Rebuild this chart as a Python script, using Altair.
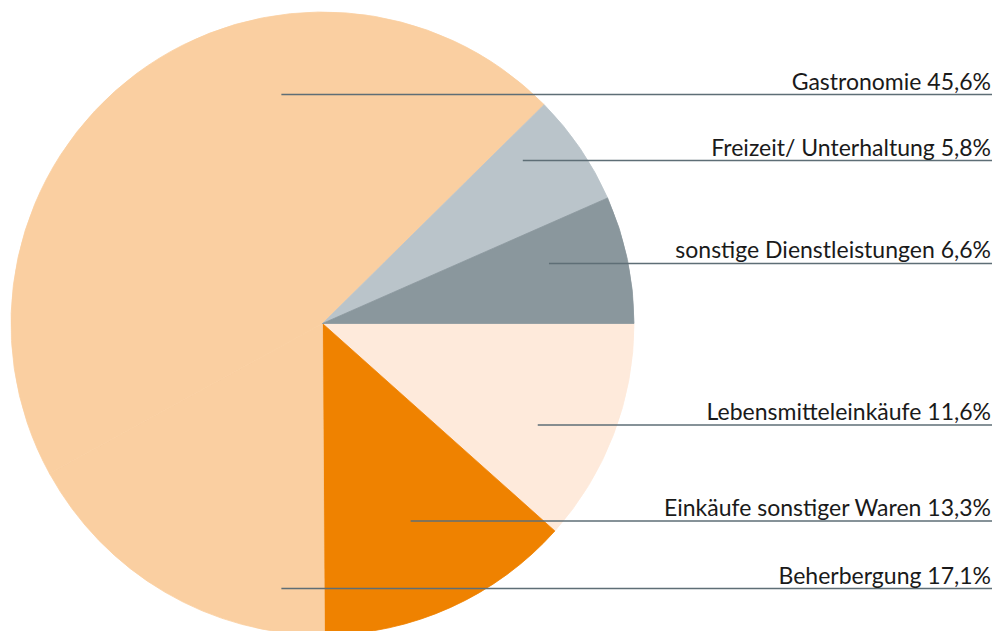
import math
import altair as alt
import pandas as pd

# data
categories = ["Lebensmitteleinkäufe", "Einkäufe sonstiger Waren", "Beherbergung",
              "Gastronomie", "Freizeit/ Unterhaltung", "sonstige Dienstleistungen"]
values = [11.6, 13.3, 17.1, 45.6, 5.8, 6.6]
labels = ["Lebensmitteleinkäufe 11,6%", "Einkäufe sonstiger Waren 13,3%", "Beherbergung 17,1%",
          "Gastronomie 45,6%\u00a0", "Freizeit/ Unterhaltung 5,8%", "sonstige Dienstleistungen 6,6%"]
colors = ["#FEEADB", "#EF8200", "#FACFA1", "#FACFA1", "#BAC4CA", "#8A979D"]

# layout (leader anchor points, in units of the pie radius relative to its centre)
W, H = 998, 631
CX, CY, R = 322.5, 323.5, 311.5
anchor_fx = [0.691, 0.283, -0.132, -0.132, 0.643, 0.727]
anchor_fy = [0.326, 0.634, 0.851, -0.735, -0.523, -0.193]
LINE_END = 992
TEXT_RIGHT = 991

df = pd.DataFrame({"cat": categories, "value": values, "label": labels,
                   "idx": list(range(len(categories)))})
lines = pd.DataFrame({
    "cat": categories,
    "label": labels,
    "x": [CX + R * f for f in anchor_fx],
    "y": [CY + R * f for f in anchor_fy],
})
lines["x2"] = LINE_END
lines["tx"] = TEXT_RIGHT
lines["ty"] = lines["y"] - 5

cscale = alt.Scale(domain=categories, range=colors)
pie = alt.Chart(df).mark_arc(strokeWidth=0.8).encode(
    theta=alt.Theta("value:Q", stack=True,
                    scale=alt.Scale(range=[math.pi / 2, math.pi / 2 + 2 * math.pi])),
    order=alt.Order("idx:Q"),
    color=alt.Color("cat:N", scale=cscale, legend=None),
    stroke=alt.Stroke("cat:N", scale=cscale, legend=None),
    x=alt.value(CX), y=alt.value(CY), radius=alt.value(R),
)

xs = alt.Scale(domain=[0, W], range=[0, W])
ys = alt.Scale(domain=[0, H], range=[0, H])

rules = alt.Chart(lines).mark_rule(color="#5E6E76", strokeWidth=1.5).encode(
    x=alt.X("x:Q", scale=xs, axis=None),
    x2="x2:Q",
    y=alt.Y("y:Q", scale=ys, axis=None),
)

texts = alt.Chart(lines).mark_text(align="right", baseline="alphabetic", font="Lato",
                                   fontSize=23, color="#1a1a1a").encode(
    x=alt.X("tx:Q", scale=xs, axis=None),
    y=alt.Y("ty:Q", scale=ys, axis=None),
    text="label:N",
)

chart = alt.layer(pie, rules, texts).properties(
    width=W, height=H,
    autosize=alt.AutoSizeParams(type="none"),
    padding=0,
).configure_view(stroke=None)

chart.save("out.html", embed_options={"renderer": "svg", "actions": False})
